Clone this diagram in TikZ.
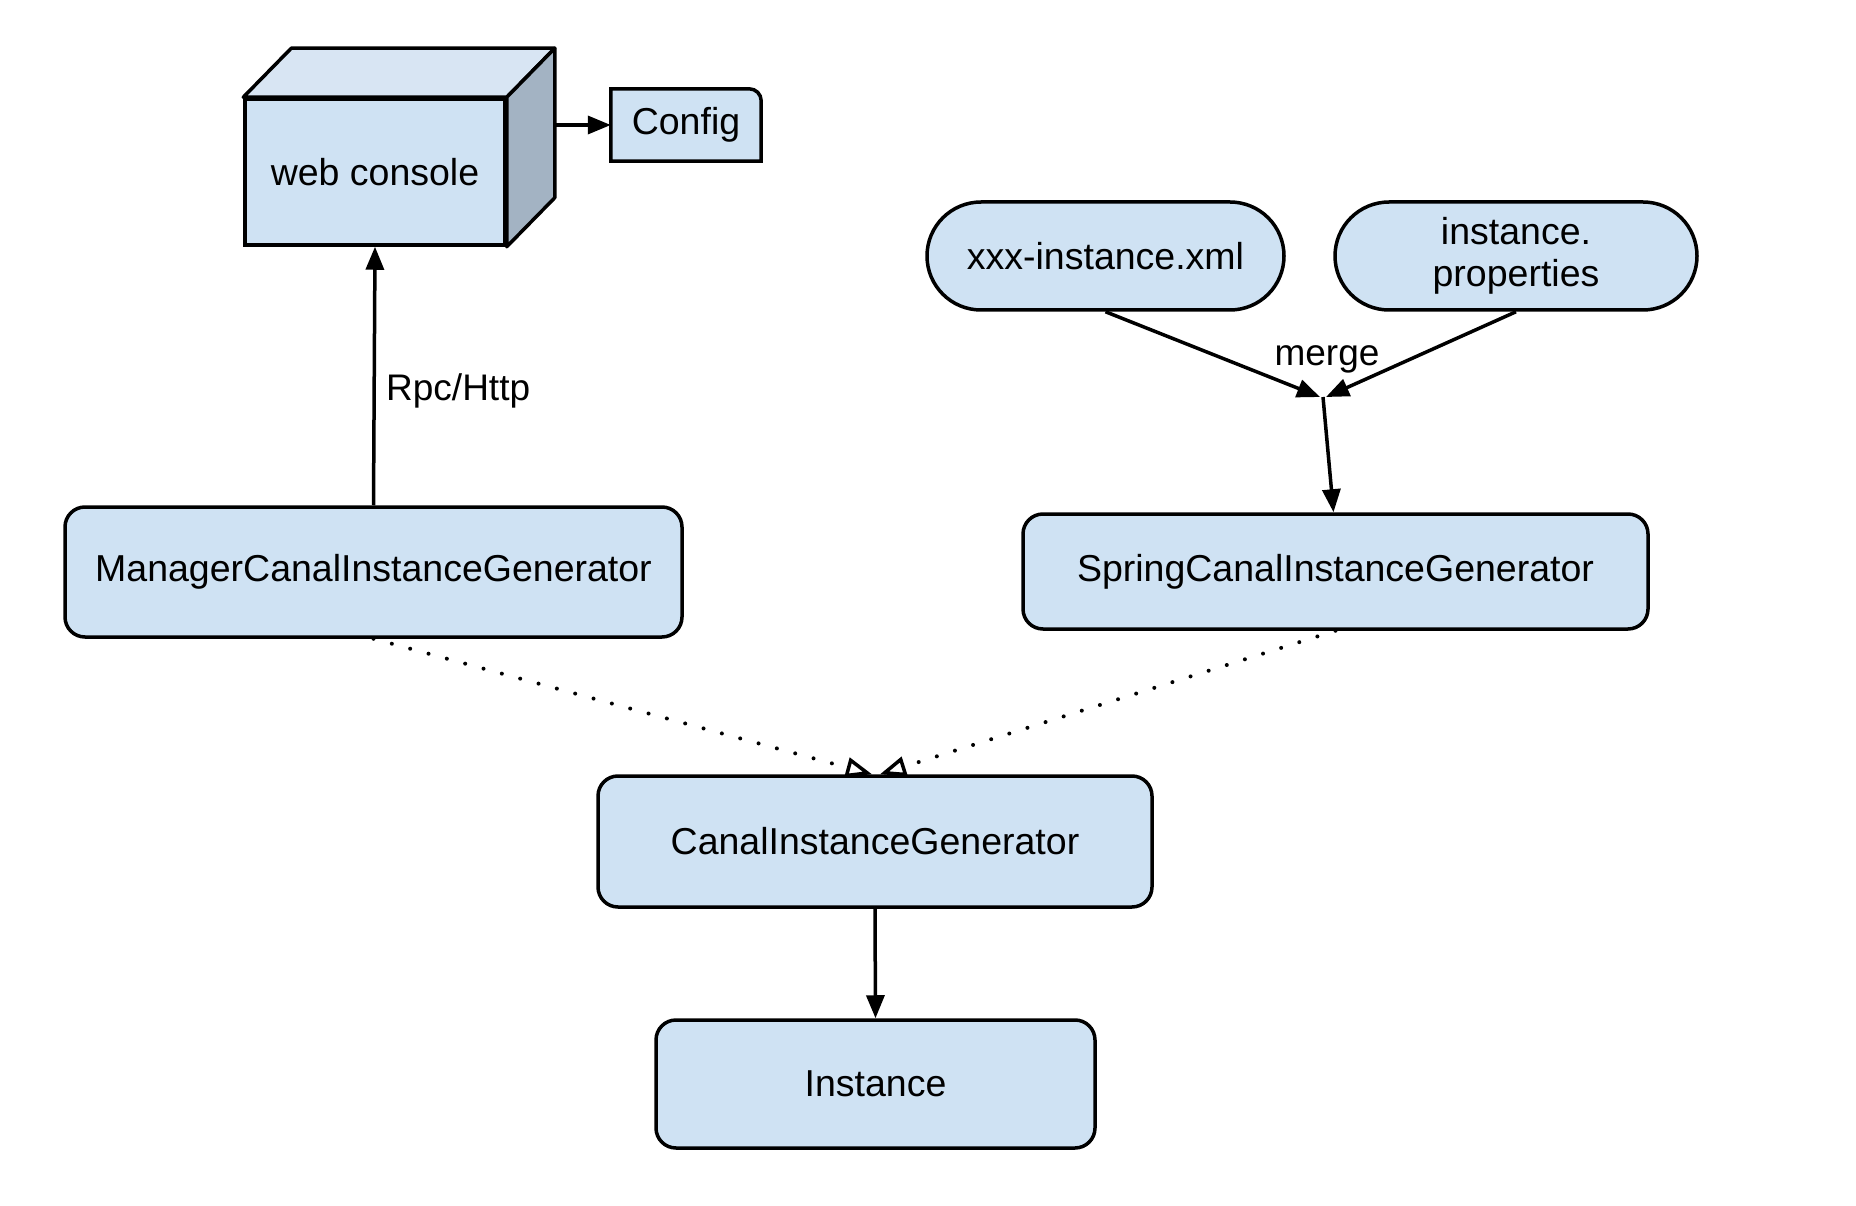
\documentclass[tikz,border=0pt]{standalone}
\usepackage{fontspec}
\setmainfont{Liberation Sans}
\usetikzlibrary{arrows.meta,calc,backgrounds}
\definecolor{boxblue}{HTML}{CFE2F3}
\definecolor{cubetop}{HTML}{D8E5F3}
\definecolor{cubeside}{HTML}{A3B3C3}
\begin{document}
\begin{tikzpicture}[x=1pt,y=-1pt,
  box/.style={draw=black,line width=3.5pt,fill=boxblue,rounded corners=20pt,
    font=\fontsize{37.5}{43}\selectfont,inner sep=0pt,align=center},
  stadium/.style={box,rounded corners=54pt,minimum height=108pt},
  lbl/.style={font=\fontsize{37}{42}\selectfont,inner sep=0pt},
  conn/.style={line width=3.5pt,-{Triangle[length=23pt,width=18pt]}},
  dotconn/.style={line width=4pt,line cap=round,dash pattern=on 0pt off 19pt,
    -{Triangle[open,length=26pt,width=20pt,line width=3.5pt]}}]
\useasboundingbox (0,0) rectangle (1856,1206);

% web console cube
\node[box,rounded corners=0pt,minimum width=260pt,minimum height=146pt] (wc) at (375,172) {web console};
\draw[line width=3.5pt,line join=round,fill=cubetop] (wc.north west) -- ++(48,-49) -- ($(wc.north east)+(48,-49)$) -- (wc.north east) -- cycle;
\draw[line width=3.5pt,line join=round,fill=cubeside] (wc.north east) -- ++(48,-49) -- ($(wc.south east)+(48,-49)$) -- (wc.south east) -- cycle;
\coordinate (wcback) at ($(wc.north east)+(48,-49)$);

% Config
\node[font=\fontsize{37.5}{43}\selectfont,minimum width=150pt,minimum height=72pt,inner sep=0pt] (cfg) at (686,125) {Config};
\begin{pgfonlayer}{background}
\draw[line width=3.5pt,fill=boxblue] (cfg.south west) -- (cfg.north west) [rounded corners=12pt] -- (cfg.north east) [sharp corners] -- (cfg.south east) -- cycle;
\end{pgfonlayer}
\draw[conn] (wcback |- cfg.west) -- (cfg.west);

% generators
\node[box,minimum width=617pt,minimum height=130pt] (mgr) at (373.5,572) {ManagerCanalInstanceGenerator};
\node[box,minimum width=625pt,minimum height=115pt] (spr) at (1335.5,571.5) {SpringCanalInstanceGenerator};
\node[box,minimum width=554pt,minimum height=131pt] (cig) at (875,841.5) {CanalInstanceGenerator};
\node[box,minimum width=439pt,minimum height=128pt] (inst) at (875.5,1084) {Instance};

% config files
\node[stadium,minimum width=357pt] (xml) at (1105.5,256) {xxx-instance.xml};
\node[stadium,minimum width=362pt] (prop) at (1516,256) {instance.\\[-1pt]properties};

% Rpc/Http
\draw[conn] (mgr.north) -- (wc.south);
\node[lbl,anchor=west] (rpc) at (386,391) {Rpc/Http};

% merge
\coordinate (m) at (1323,397);
\draw[conn] (xml.south) -- ($(m)+(-3,0)$);
\draw[conn] (prop.south) -- ($(m)+(3,0)$);
\draw[conn] (m) -- ($(spr.north)+(-2,0)$);
\node[lbl] (mergelbl) at (1327,359) {merge};

% dotted realisations
\draw[dotconn] (mgr.south) -- ($(cig.north)+(-3,0)$);
\draw[dotconn] (spr.south) -- ($(cig.north)+(5,0)$);

% CanalInstanceGenerator -> Instance
\draw[conn] (cig.south) -- (inst.north);
\end{tikzpicture}
\end{document}
